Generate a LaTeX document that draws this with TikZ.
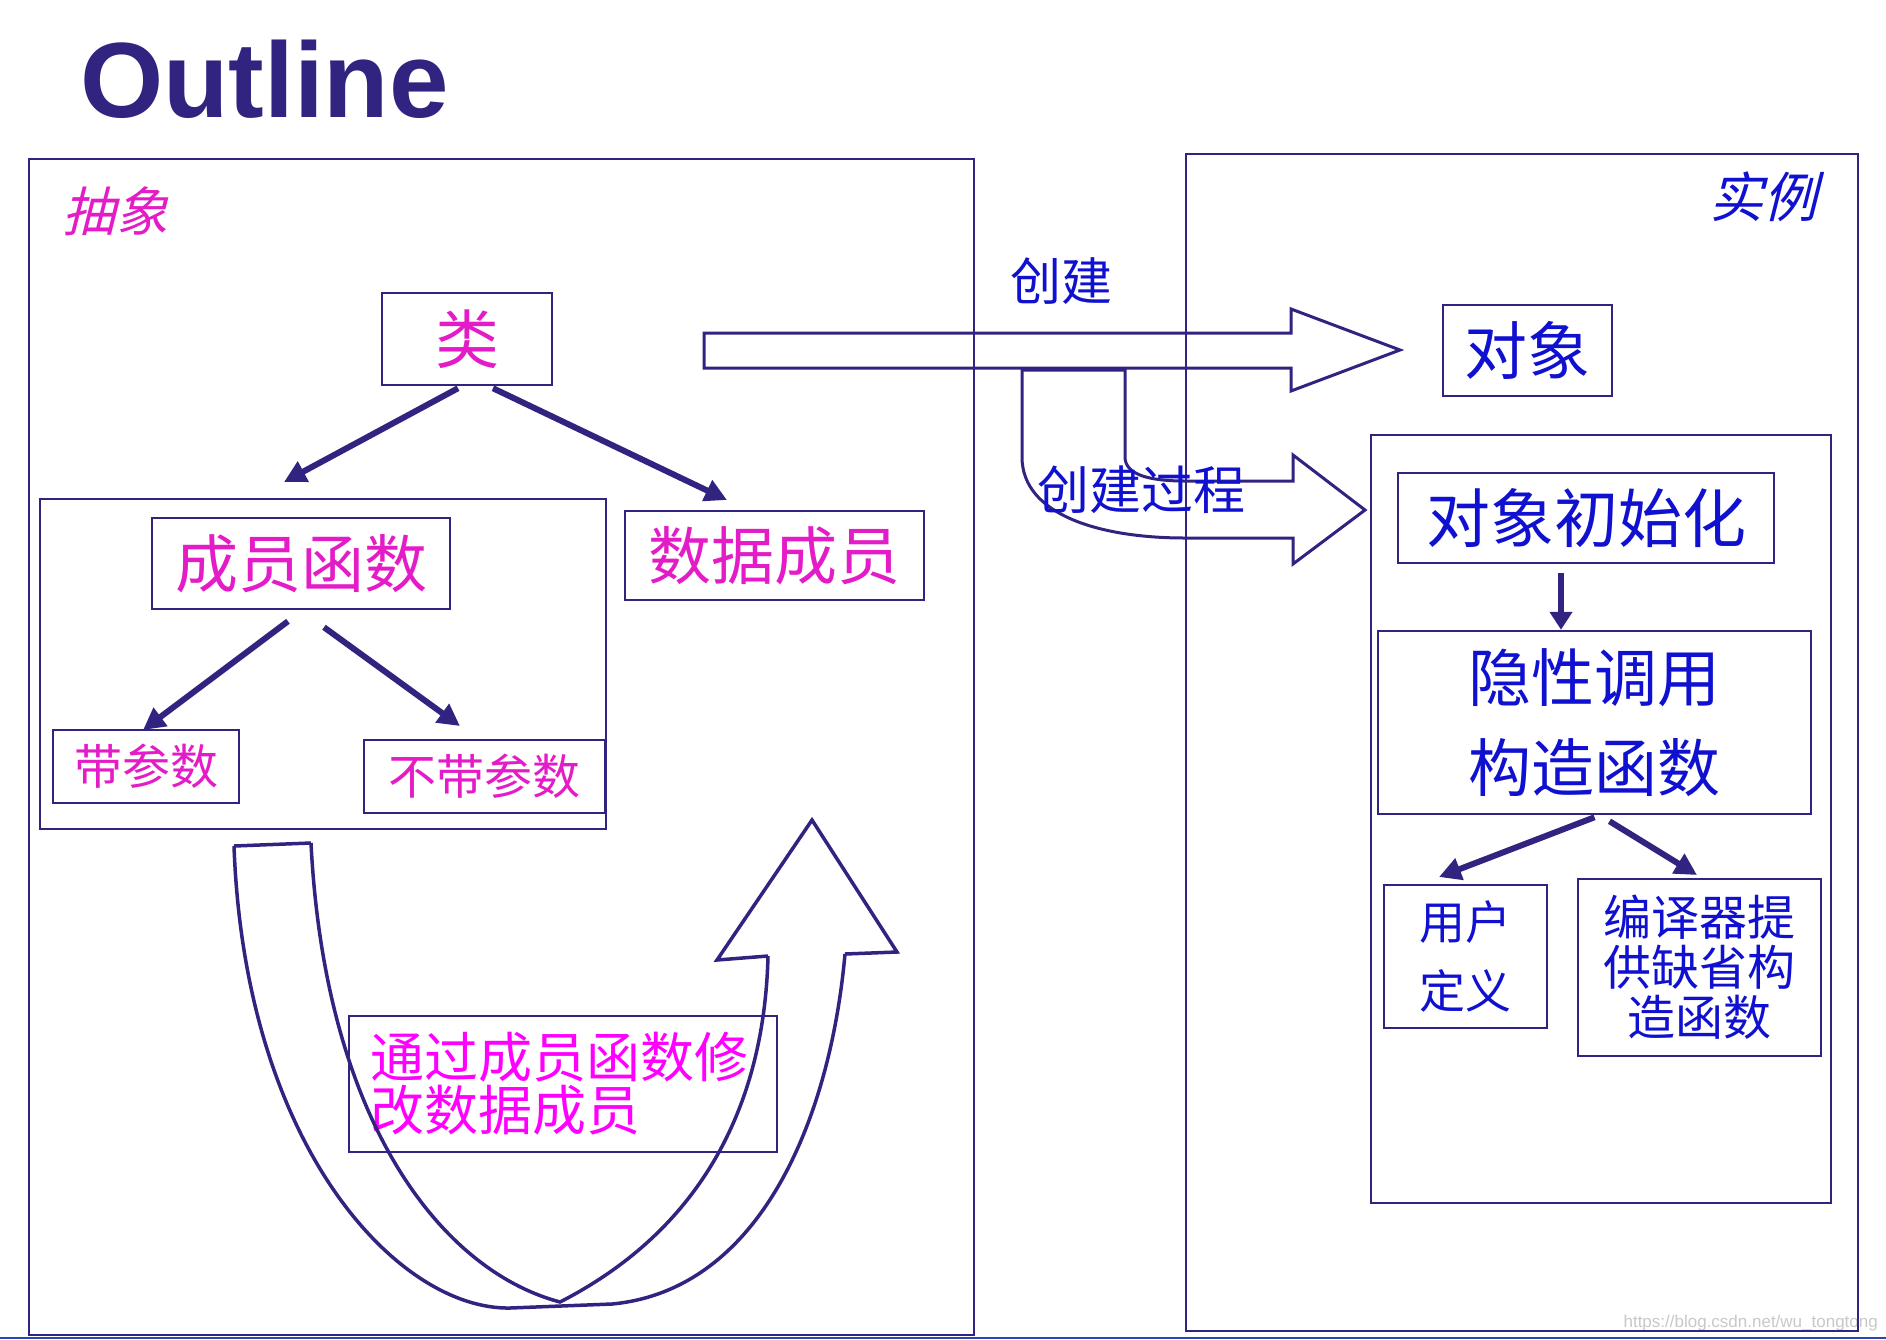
\documentclass[tikz,border=0pt]{standalone}
\usepackage{fontspec}
\setmainfont{Liberation Sans}
\newfontfamily\cjk{Noto Sans CJK SC}
\newfontfamily\cjkit[FakeSlant=0.25]{Noto Sans CJK SC}
\usetikzlibrary{arrows.meta}
\definecolor{navy}{RGB}{48,36,128}
\definecolor{mag}{RGB}{228,28,200}
\definecolor{magb}{RGB}{255,0,255}
\definecolor{blu}{RGB}{16,16,208}
\definecolor{wm}{RGB}{200,200,200}
\definecolor{botline}{RGB}{40,70,180}
\begin{document}
\begin{tikzpicture}[x=1pt,y=-1pt,
  box/.style={draw=navy,line width=2.5pt,inner sep=0pt,rectangle},
  conn/.style={draw=navy,line width=6pt,-{Triangle[length=22pt,width=22pt]}},
  block/.style={draw=navy,line width=3pt,line join=miter},
  magtext/.style={text=mag},
  blutext/.style={text=blu},
  plain/.style={inner sep=0pt}
]
\useasboundingbox (0,0) rectangle (1886,1339);
\fill[white] (0,0) rectangle (1886,1339);

% watermark (under everything)
\node[plain,anchor=base east,text=wm,font=\fontsize{17}{19}\selectfont] (wmark) at (1878,1327) {https://blog.csdn.net/wu\_tongtong};

% title
\node[plain,anchor=base west,text=navy,font=\bfseries\fontsize{107}{110}\selectfont] (title) at (80,117) {Outline};

% big frames
\node[box,minimum width=945pt,minimum height=1176pt] (leftbox) at (501.5,747) {};
\node[box,minimum width=672pt,minimum height=1177pt] (rightbox) at (1522,742.5) {};
\node[box,minimum width=460pt,minimum height=768pt] (inbox) at (1601,819) {};
\node[box,minimum width=566pt,minimum height=330pt] (mfgroup) at (323,664) {};

% corner labels
\node[plain,magtext,font=\cjkit\fontsize{53}{58}\selectfont] (abstract) at (115,211) {抽象};
\node[plain,blutext,font=\cjkit\fontsize{54}{58}\selectfont] (instance) at (1763,197) {实例};

% left side nodes
\node[box,magtext,minimum width=170pt,minimum height=92pt,font=\cjk\fontsize{64}{70}\selectfont] (lei) at (467,339) {类};
\node[box,magtext,minimum width=298pt,minimum height=91pt,font=\cjk\fontsize{63}{70}\selectfont] (cyhs) at (301,563.5) {成员函数};
\node[box,magtext,minimum width=299pt,minimum height=89pt,font=\cjk\fontsize{63}{70}\selectfont] (sjcy) at (774.5,555.5) {数据成员};
\node[box,magtext,minimum width=186pt,minimum height=73pt,font=\cjk\fontsize{48}{52}\selectfont] (dcs) at (146,766.5) {带参数};
\node[box,magtext,minimum width=241pt,minimum height=73pt,font=\cjk\fontsize{48}{52}\selectfont] (bdcs) at (484.5,776.5) {不带参数};
\node[box,text=magb,minimum width=428pt,minimum height=136pt,text width=386pt,align=left,font=\cjk\fontsize{54}{53}\selectfont] (modify) at (563,1084) {通过成员函数修\\改数据成员};

% right side nodes
\node[box,blutext,minimum width=169pt,minimum height=91pt,font=\cjk\fontsize{63}{70}\selectfont] (dx) at (1527.5,350.5) {对象};
\node[box,blutext,minimum width=376pt,minimum height=90pt,font=\cjk\fontsize{64}{70}\selectfont] (init) at (1586,518) {对象初始化};
\node[box,blutext,minimum width=433pt,minimum height=183pt,align=center,font=\cjk\fontsize{63}{90}\selectfont] (implicit) at (1594.5,722.5) {隐性调用\\构造函数};
\node[box,blutext,minimum width=163pt,minimum height=143pt,align=center,font=\cjk\fontsize{46}{69}\selectfont] (user) at (1465.5,956.5) {用户\\定义};
\node[box,blutext,minimum width=243pt,minimum height=177pt,align=center,font=\cjk\fontsize{48}{50}\selectfont] (compiler) at (1699.5,967.5) {编译器提\\供缺省构\\造函数};

% arrow tip coordinates (free ends)
\coordinate (t1) at (284,482);
\coordinate (t2) at (727,500);
\coordinate (t3) at (143,730);
\coordinate (t4) at (460,726);
\coordinate (t5) at (1439,877);
\coordinate (t6) at (1697,875);

% connectors
\draw[conn] ([xshift=-9pt,yshift=-2pt]lei.south) -- (t1);
\draw[conn] ([xshift=26pt,yshift=-2pt]lei.south) -- (t2);
\draw[conn] ([xshift=-13pt,yshift=-11pt]cyhs.south) -- (t3);
\draw[conn] ([xshift=23pt,yshift=-17pt]cyhs.south) -- (t4);
\draw[conn,-{Triangle[length=18pt,width=22pt]}] ([xshift=-25pt,yshift=-9pt]init.south) -- ([xshift=-33.5pt]implicit.north);
\draw[conn] ([xshift=0pt,yshift=-2pt]implicit.south) -- (t5);
\draw[conn] ([xshift=15pt,yshift=-6pt]implicit.south) -- (t6);

% block arrow "创建"
\draw[block] (704,333) -- (1291,333) -- (1291,309) -- (1400,350) -- (1291,391) -- (1291,368) -- (704,368) -- cycle;
\node[plain,blutext,font=\cjk\fontsize{51}{56}\selectfont] (create) at (1061,281) {创建};

% bent arrow "创建过程"
\draw[block] (1022,370) -- (1022,457) .. controls (1022,515) and (1100,538) .. (1185,538)
  -- (1293,538) -- (1293,564) -- (1365,510) -- (1293,455) -- (1293,481) -- (1185,481)
  .. controls (1150,481) and (1125,475) .. (1125,457) -- (1125,370) -- cycle;
\node[plain,blutext,font=\cjk\fontsize{52}{56}\selectfont] (process) at (1141,490) {创建过程};

% U-turn arrow
\draw[block,line width=3.5pt] (234,846) .. controls (245,1150) and (400,1310) .. (510,1308)
  -- (612,1304) .. controls (760,1290) and (830,1120) .. (845,954);
\draw[block,line width=3.5pt] (311,843) .. controls (325,1120) and (440,1270) .. (560,1302)
  .. controls (720,1220) and (765,1080) .. (768,956);
\draw[block,line width=3.5pt] (768,956) -- (717,960) -- (812,820) -- (897,952) -- (845,954);
\draw[block,line width=3.5pt] (234,846) -- (311,843);

% bottom line
\draw[botline,line width=2pt] (0,1338) -- (1886,1338);
\end{tikzpicture}
\end{document}
